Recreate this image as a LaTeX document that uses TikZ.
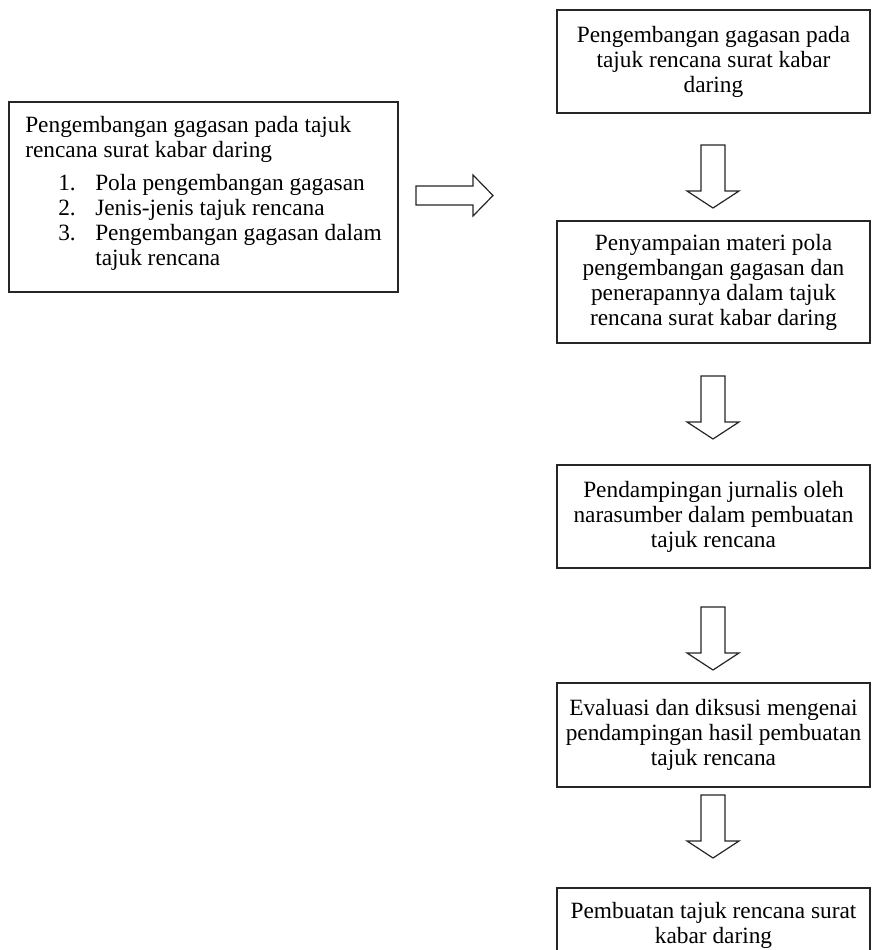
\documentclass[tikz,border=0pt]{standalone}
\usepackage{fontspec}
\setmainfont{Liberation Serif}
\begin{document}
\begin{tikzpicture}[x=0.75pt,y=-0.75pt,
  box/.style={draw=black!85, line width=0.9pt, minimum width=234.75pt, inner sep=0pt,
    align=center, font=\fontsize{17.5}{18.75}\selectfont},
  leftbox/.style={draw=black!85, line width=0.9pt, minimum width=291.75pt, minimum height=142.5pt, inner sep=0pt},
  lefttext/.style={inner sep=0pt, align=left, anchor=north west, font=\fontsize{17.5}{18.75}\selectfont},
  blockarrow/.style={draw=black!85, line width=0.9pt, fill=white, line join=miter}]
\useasboundingbox (0,0) rectangle (872,950);
\clip (0,0) rectangle (872,950);
\fill[white] (0,0) rectangle (872,950);

% left box
\node[leftbox] (L) at (203.5,197) {};
\node[lefttext] (Lt) at (25,116) {Pengembangan gagasan pada tajuk\\
rencana surat kabar daring\\[6pt]
\hspace*{24.75pt}\makebox[27.75pt][l]{1.}Pola pengembangan gagasan\\
\hspace*{24.75pt}\makebox[27.75pt][l]{2.}Jenis-jenis tajuk rencana\\
\hspace*{24.75pt}\makebox[27.75pt][l]{3.}Pengembangan gagasan dalam\\
\hspace*{52.5pt}tajuk rencana};

% right column boxes
\node[box, minimum height=77.25pt] (b1) at (713.5,61.5) {Pengembangan gagasan pada\\tajuk rencana surat kabar\\daring};
\node[box, minimum height=91.5pt] (b2) at (713.5,282) {Penyampaian materi pola\\pengembangan gagasan dan\\penerapannya dalam tajuk\\rencana surat kabar daring};
\node[box, minimum height=77.25pt] (b3) at (713.5,516.5) {Pendampingan jurnalis oleh\\narasumber dalam pembuatan\\tajuk rencana};
\node[box, minimum height=78pt] (b4) at (713.5,735) {Evaluasi dan diksusi mengenai\\pendampingan hasil pembuatan\\tajuk rencana};
\node[box, minimum height=55.5pt] (b5) at (713.5,925) {Pembuatan tajuk rencana surat\\kabar daring};

% right block arrow
\coordinate (ra) at (416,195.5);
\draw[blockarrow] (ra) ++(0,-9.5) -- ++(57,0) -- ++(0,-11) -- ++(20,20.5) -- ++(-20,20.5) -- ++(0,-11) -- ++(-57,0) -- cycle;

% down block arrows
\foreach \n/\yt in {d1/145, d2/376, d3/607, d4/795}{
  \coordinate (\n) at (713,\yt);
  \draw[blockarrow] (\n) ++(-12,0) -- ++(24,0) -- ++(0,46) -- ++(14,0) -- ++(-26,17) -- ++(-26,-17) -- ++(14,0) -- cycle;
}
\end{tikzpicture}
\end{document}
